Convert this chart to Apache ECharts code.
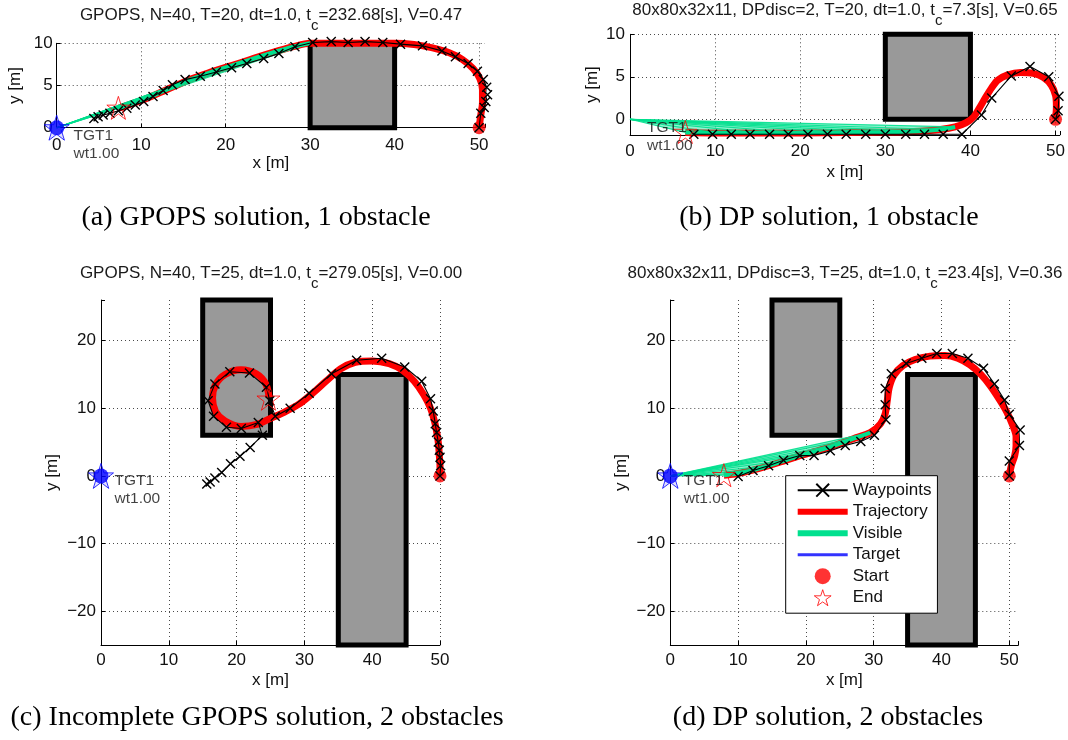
<!DOCTYPE html>
<html><head><meta charset="utf-8">
<script src="https://cdn.jsdelivr.net/npm/echarts@6/dist/echarts.min.js"></script>
<style>html,body{margin:0;padding:0;background:#fff}#c{width:1068px;height:740px}</style>
</head><body><div id="c"></div>
<script>
// ================= DATA =================
const titleA = 'GPOPS, N=40, T=20, dt=1.0, t{c|c}=232.68[s], V=0.47';
const titleB = '80x80x32x11, DPdisc=2, T=20, dt=1.0, t{c|c}=7.3[s], V=0.65';
const titleC = 'GPOPS, N=40, T=25, dt=1.0, t{c|c}=279.05[s], V=0.00';
const titleD = '80x80x32x11, DPdisc=3, T=25, dt=1.0, t{c|c}=23.4[s], V=0.36';
const captions = ['(a) GPOPS solution, 1 obstacle', '(b) DP solution, 1 obstacle',
                  '(c) Incomplete GPOPS solution, 2 obstacles', '(d) DP solution, 2 obstacles'];
const legendNames = ['Waypoints', 'Trajectory', 'Visible', 'Target', 'Start', 'End'];
const targetText = 'TGT1\nwt1.00';

const xTicks = [0, 10, 20, 30, 40, 50];
const yTicksAB = [0, 5, 10];
const yTicksCD = [-20, -10, 0, 10, 20];

// obstacles: [xmin, xmax, ymin, ymax]
const obstaclesA = [[30, 40, 0, 10]];
const obstaclesB = [[30, 40, 0, 10]];
const obstaclesC = [[15, 25, 6, 26], [35, 45, -25, 15]];
const obstaclesD = [[15, 25, 6, 26], [35, 45, -25, 15]];

const targetA = [0, 0], targetB = [0, 0], targetC = [0, 0], targetD = [0, 0];
const startA = [50, 0], startB = [50, 0], startC = [50, 0], startD = [50, 0];
const endA = [7.3, 2.35], endB = [6.5, -1.5], endC = [24.7, 11.4], endD = [7.9, 0.1];

// trajectories, ordered from start to end
const trajA = [[50,0],[50.2,1.5],[50.4,3],[50.4,4.5],[50.1,5.8],[49.3,7],[48,8.1],[46.4,8.9],[44.5,9.45],[42.3,9.85],
  [40,10],[37.5,10],[35,10],[32.5,10],[30,10],[28,9.6],[25.5,8.9],[23,8.1],[20.5,7.3],[18,6.5],[15.5,5.6],
  [13,4.5],[10.5,3.4],[8.5,2.7],[7.3,2.3]];
const trajB = [[50,0],[50.1,1.5],[50,2.8],[49.5,4],[48.6,4.9],[47.4,5.4],[45.9,5.5],[44.3,5.2],[43.2,4.6],[42.5,3.7],
  [41.8,2.6],[41.1,1.4],[40.4,0.3],[39.5,-0.4],[38.2,-0.9],[36.5,-1.2],[34,-1.4],[30,-1.5],[25,-1.55],[20,-1.6],
  [15,-1.6],[10,-1.6],[6.5,-1.55]];
const trajC = [[50,0],[50,1.5],[49.9,3],[49.8,4.5],[49.6,6],[49.2,8],[48.6,10],[47.6,12],[46.2,14],[44.5,15.6],
  [42.5,16.6],[40,17],[37.5,16.8],[35.3,15.8],[33.2,14],[31.2,12.2],[29.2,10.6],[27,9.4],[25,8.5],[23,7.6],
  [20.65,7.3],[18.3,8.1],[16.9,9.5],[16.45,11.5],[16.9,13.5],[18.3,15],[20.65,15.7],[22.9,15.1],[24.3,13.6],[24.8,11.6]];
const trajD = [[50,0],[50.3,1.5],[50.8,3],[51,4.5],[51,5.8],[50.5,7.5],[49.6,9.5],[48.6,11.2],[47.2,13.3],[45.8,15],
  [44.2,16.4],[42.4,17.4],[40.5,17.8],[38.3,17.7],[36.1,17.2],[34.3,16.3],[33,14.9],[32.3,13.1],[32,11.1],[31.7,9.2],
  [31,7.7],[29.5,6.4],[27,5.5],[24.5,4.6],[22,3.8],[19.5,3.1],[17,2.3],[14.5,1.5],[12,0.8],[10,0.35],[7.9,0.1]];

// index in each trajectory from which the target is visible (to the end)
const visibleFromA = 14, visibleFromB = 14, visibleFromC = null, visibleFromD = 21;

// waypoints, ordered from start
const waypointsA = [[50,0],[50.2,1.7],[50.6,2.4],[50.8,3.1],[51,3.9],[50.9,4.8],[50.5,5.7],[49.8,6.7],[48.7,7.6],[47.2,8.4],
  [45.6,9.1],[43.3,9.7],[40.7,9.9],[38.6,10.1],[36.5,10.2],[34.5,10.1],[32.5,10.2],[30.3,10.1],[28.2,9.6],[26.3,8.8],
  [24.5,8.2],[22.5,7.6],[20.7,7.1],[18.9,6.6],[17,6.1],[15.2,5.7],[13.7,5.1],[12.6,4.4],[11.4,3.7],[10.3,3.1],
  [9.3,2.7],[8.3,2.3],[7.3,2],[6.3,1.7],[5.5,1.5],[4.9,1.3],[4.4,1.1]];
const waypointsB = [[50,0],[50.3,1],[50.4,2.7],[49.2,5],[47,6.2],[44.8,5.1],[42.5,2.5],[41.3,0.5],[39,-1.76],[36.8,-1.76],
  [34.6,-1.76],[32.4,-1.76],[30,-1.76],[27.7,-1.76],[25.4,-1.76],[23.2,-1.76],[20.9,-1.76],[18.6,-1.76],[16.4,-1.76],
  [14.1,-1.76],[11.9,-1.76],[9.7,-1.76],[7.5,-1.76]];
const waypointsC = [[50,0],[50.1,1.5],[50,2.75],[49.9,3.8],[49.75,5],[49.5,6.4],[49.3,7.7],[49,9.6],[48.6,11.4],[47.3,14],
  [44.8,16.1],[41.4,17.4],[37.7,17.1],[34,15.1],[30.7,12.2],[27.9,10],[25.7,8.8],[24.9,11.1],[24.4,13.1],[21.9,15.2],
  [19,15.4],[16.8,13.6],[15.8,11.1],[16.6,8.8],[18.5,7.2],[20.7,7],[23.2,7.9],[23.8,6],[22,4.2],[20.5,2.9],
  [19.1,1.8],[17.8,0.5],[16.8,-0.3],[16.1,-0.9],[15.6,-1.2]];
const waypointsD = [[50,0],[50,2.2],[51.5,4.5],[51.6,6.8],[50,9.1],[49.3,11.2],[47.8,13.6],[46.2,15.9],[43.9,17.4],[41.6,18.1],
  [39.3,18.1],[37.1,17.4],[34.8,16.6],[32.6,15.1],[31.7,12.9],[31.7,10.5],[31.8,8.3],[30.1,6],[28.1,5.1],[25.8,4.5],
  [23.6,3.7],[21.2,3],[19.1,3],[16.7,2.3],[14.5,1.5],[12.2,0.8],[10,-0.1]];

// ================= LAYOUT / STYLE =================
const FONT = "'Liberation Sans', Arial, Helvetica, sans-serif";
const SERIF = "'Liberation Serif', 'Times New Roman', serif";
const GREEN = '#00e08e';
const STAR = 'path://M50,0L61.2,34.5L97.6,34.5L68.2,55.9L79.4,90.5L50,69.1L20.6,90.5L31.8,55.9L2.4,34.5L38.8,34.5Z';
const CROSS = 'path://M0,0L10,10M10,0L0,10';

const panels = [
  {grid:{left:56.7, top:43.3, width:428.3, height:84.4}, x:[0,50.7], y:[0,10], yStep:5, yTicks:yTicksAB,
   xMargin:9, yMargin:4, xGap:27, yGap:33, showTargetMark:true, xMaxLine:false, yMaxLine:true,
   title:titleA, tpos:[271,15.5], obst:obstaclesA, traj:trajA, vis:visibleFromA, wp:waypointsA,
   start:startA, end:endA, target:targetA},
  {grid:{left:630, top:34.3, width:430, height:100.7}, x:[0,50.5], y:[-1.85,10], yStep:5, yTicks:yTicksAB,
   xMargin:8, yMargin:5, xGap:29, yGap:29, showTargetMark:false, xMaxLine:false, yMaxLine:true,
   title:titleB, tpos:[845,10.5], obst:obstaclesB, traj:trajB, vis:visibleFromB, wp:waypointsB,
   start:startB, end:endB, target:targetB},
  {grid:{left:101, top:300, width:339, height:345}, x:[0,50], y:[-25,26], yStep:10, yTicks:yTicksCD,
   xMargin:7, yMargin:5, xGap:27, yGap:40, showTargetMark:true, xMaxLine:true, yMaxLine:false,
   title:titleC, tpos:[271,273.5], obst:obstaclesC, traj:trajC, vis:visibleFromC, wp:waypointsC,
   start:startC, end:endC, target:targetC},
  {grid:{left:670.3, top:300, width:348, height:345}, x:[0,51.33], y:[-25,26], yStep:10, yTicks:yTicksCD,
   xMargin:7, yMargin:5, xGap:27, yGap:40, showTargetMark:true, xMaxLine:false, yMaxLine:false,
   title:titleD, tpos:[845,273.5], obst:obstaclesD, traj:trajD, vis:visibleFromD, wp:waypointsD,
   start:startD, end:endD, target:targetD}
];
const captionPos = [[256,218],[829,218],[257,718],[828,718]];

function fmtTick(ticks){
  return function(v){
    const r = Math.round(v);
    if (Math.abs(v - r) > 1e-6 || ticks.indexOf(r) < 0) return '';
    return r < 0 ? '\u2212' + (-r) : String(r);
  };
}

const grids = [], xAxes = [], yAxes = [], series = [], titles = [];
const axisCommon = {
  axisLine:{show:true, onZero:false, lineStyle:{color:'#000', width:1}},
  axisTick:{show:true, inside:true, length:4, lineStyle:{color:'#000'}},
  nameLocation:'middle',
  nameTextStyle:{fontFamily:FONT, fontSize:17, color:'#111'}
};
const splitStyle = {color:'#4a4a4a', width:1, type:[1,3]};

panels.forEach(function(p, i){
  grids.push(Object.assign({containLabel:false}, p.grid));
  xAxes.push(Object.assign({}, axisCommon, {
    type:'value', gridIndex:i, min:p.x[0], max:p.x[1], interval:10, name:'x [m]', nameGap:p.xGap,
    axisLabel:{fontFamily:FONT, fontSize:17, color:'#111', margin:p.xMargin, formatter:fmtTick(xTicks)},
    splitLine:{show:true, showMinLine:false, showMaxLine:p.xMaxLine, lineStyle:splitStyle}
  }));
  yAxes.push(Object.assign({}, axisCommon, {
    type:'value', gridIndex:i, min:p.y[0], max:p.y[1], minInterval:p.yStep, maxInterval:p.yStep,
    name:'y [m]', nameGap:p.yGap, nameRotate:90,
    axisLabel:{fontFamily:FONT, fontSize:17, color:'#111', margin:p.yMargin, formatter:fmtTick(p.yTicks)},
    splitLine:{show:true, showMinLine:false, showMaxLine:p.yMaxLine, lineStyle:splitStyle}
  }));

  // obstacles
  series.push({
    type:'custom', name:'obstacle', xAxisIndex:i, yAxisIndex:i, z:1, silent:true, clip:false,
    data:p.obst, encode:{x:[0,1], y:[2,3]},
    renderItem:function(params, api){
      const a = api.coord([api.value(0), api.value(3)]);
      const b = api.coord([api.value(1), api.value(2)]);
      return {type:'rect', shape:{x:a[0], y:a[1], width:b[0]-a[0], height:b[1]-a[1]},
              style:{fill:'#999999', stroke:'#000', lineWidth:5}};
    }
  });
  // trajectory
  series.push({
    type:'line', name:'Trajectory', xAxisIndex:i, yAxisIndex:i, z:2, data:p.traj, smooth:0.3,
    symbol:'none', clip:false, lineStyle:{color:'#ff0000', width:7}, itemStyle:{color:'#ff0000'}, silent:true
  });
  // visible
  if (p.vis !== null) {
    const pts = p.traj.slice(p.vis);
    const tgt = p.target;
    series.push({
      type:'custom', name:'Visible', xAxisIndex:i, yAxisIndex:i, z:3, silent:true, clip:false,
      data:pts,
      renderItem:function(params, api){
        const t = api.coord(tgt);
        const a = api.coord(pts[params.dataIndex]);
        const kids = [];
        const nx = pts[params.dataIndex + 1];
        if (nx) {
          const b = api.coord(nx);
          kids.push({type:'polygon', shape:{points:[t, a, b]}, style:{fill:GREEN, opacity:0.42}});
        }
        kids.push({type:'line', shape:{x1:t[0], y1:t[1], x2:a[0], y2:a[1]},
                   style:{stroke:GREEN, lineWidth:1.2, opacity:0.9}});
        return {type:'group', children:kids};
      }
    });
    series.push({
      type:'line', name:'Visible', xAxisIndex:i, yAxisIndex:i, z:3, data:pts, smooth:0.3, symbol:'none',
      clip:false, lineStyle:{color:GREEN, width:4}, itemStyle:{color:GREEN}, silent:true
    });
  }
  // waypoints
  series.push({
    type:'line', name:'Waypoints', xAxisIndex:i, yAxisIndex:i, z:4, data:p.wp, clip:false,
    symbol:CROSS, symbolSize:9, showAllSymbol:true, silent:true,
    lineStyle:{color:'#000', width:1.1}, itemStyle:{color:'#000', borderColor:'#000', borderWidth:1.4}
  });
  // start
  series.push({
    type:'scatter', name:'Start', xAxisIndex:i, yAxisIndex:i, z:3.5, data:[p.start], clip:false,
    symbol:'circle', symbolSize:13, itemStyle:{color:'#ff0000'}, silent:true
  });
  // end
  series.push({
    type:'scatter', name:'End', xAxisIndex:i, yAxisIndex:i, z:6, data:[p.end], clip:false,
    symbol:STAR, symbolSize:23, itemStyle:{color:'rgba(0,0,0,0)', borderColor:'#ff0000', borderWidth:1}, silent:true
  });
  // target
  if (p.showTargetMark) {
    series.push({
      type:'scatter', name:'Target', xAxisIndex:i, yAxisIndex:i, z:7, data:[p.target], clip:false,
      symbol:'circle', symbolSize:15, itemStyle:{color:'#0000ff'}, silent:true
    });
    series.push({
      type:'scatter', name:'Target', xAxisIndex:i, yAxisIndex:i, z:7, data:[p.target], clip:false,
      symbol:STAR, symbolSize:25, itemStyle:{color:'rgba(0,0,255,0.15)', borderColor:'#0000ff', borderWidth:1}, silent:true
    });
  }
  series.push({
    type:'scatter', name:'tgtlabel', xAxisIndex:i, yAxisIndex:i, z:8, clip:false, silent:true,
    data:[[p.target[0] + 2, p.target[1] - 2]], symbolSize:0,
    label:{show:true, position:'right', distance:0, formatter:targetText,
           fontFamily:FONT, fontSize:15.5, lineHeight:18, color:'#111'}
  });

  titles.push({
    text:p.title, left:p.tpos[0], top:p.tpos[1], textAlign:'center', textVerticalAlign:'middle', padding:0,
    textStyle:{fontFamily:FONT, fontSize:17, fontWeight:'normal', color:'#1a1a1a',
      rich:{c:{fontFamily:FONT, fontSize:15, color:'#1a1a1a', padding:[20,0,0,0]}}}
  });
});

captions.forEach(function(c, i){
  titles.push({
    text:c, left:captionPos[i][0], top:captionPos[i][1], textAlign:'center', textVerticalAlign:'middle', padding:0,
    textStyle:{fontFamily:SERIF, fontSize:28, fontWeight:'normal', color:'#000'}
  });
});

const legendIcons = {
  'Trajectory':{icon:'path://M0,0H50V6H0Z', itemStyle:{color:'#ff0000'}},
  'Visible':{icon:'path://M0,0H50V6H0Z', itemStyle:{color:GREEN}},
  'Target':{icon:'path://M0,0H50V3H0Z', itemStyle:{color:'#0000ff'}},
  'Start':{icon:'circle', itemStyle:{color:'#ff0000'}},
  'End':{icon:STAR, itemStyle:{color:'rgba(0,0,0,0)', borderColor:'#ff0000', borderWidth:1}}
};
const legendData = legendNames.map(function(n){ return Object.assign({name:n}, legendIcons[n] || {}); });

const option = {
  animation:false,
  backgroundColor:'#fff',
  textStyle:{fontFamily:FONT},
  title:titles,
  grid:grids,
  xAxis:xAxes,
  yAxis:yAxes,
  legend:{
    data:legendData, orient:'vertical', left:785.7, top:475.7, padding:[6,6,7,11],
    itemWidth:50, itemHeight:16, itemGap:4.5, z:20, selectedMode:false,
    backgroundColor:'#fff', borderColor:'#000', borderWidth:1, borderRadius:0,
    textStyle:{fontFamily:FONT, fontSize:17, color:'#111'}
  },
  series:series
};

const chart = echarts.init(document.getElementById('c'), null, {renderer:'canvas'});
chart.setOption(option);
</script>
</body></html>
